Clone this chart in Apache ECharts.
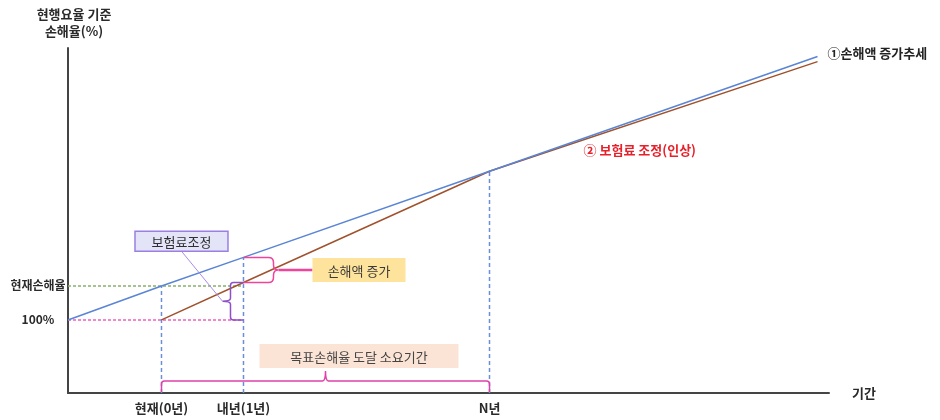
<!DOCTYPE html>
<html>
<head>
<meta charset="utf-8">
<script src="https://cdn.jsdelivr.net/npm/echarts@6/dist/echarts.min.js"></script>
<style>
  html, body { margin: 0; padding: 0; background: #fff; }
  #chart { width: 940px; height: 420px; }
</style>
</head>
<body>
<div id="chart"></div>
<script>
// 기간 축 (년) 과 눈금 라벨
const periodTicks = [0, 1, 4];
const periodLabels = ['현재(0년)', '내년(1년)', 'N년'];

// 선이 지나는 연도
const lineYears = [0, 1, 4, 8];
// ① 손해액 증가추세 (현행요율 기준 손해율)
const lossTrend = [110, 118.4, 143.75, 177.5];
// ② 보험료 조정(인상) 후 손해율
const adjusted = [100, 111, 143.75, 176];

// 손해율 기준값과 눈금 라벨
const baseRatio = 100;
const currentRatio = 110;
const ratioTicks = [100, 110];
const ratioLabels = ['100%', '현재손해율'];

const X_MIN = -1.14, X_MAX = 8.14, Y_MIN = 78.5, Y_MAX = 180;
const FONT = '"Noto Sans CJK KR", "Noto Sans", sans-serif';

const chart = echarts.init(document.getElementById('chart'), null, { renderer: 'canvas' });

const pts = (xs, ys) => xs.map((x, i) => [x, ys[i]]);

// 괄호, 연결선, 설명 상자
function renderNotes(params, api) {
  const p = (x, y) => api.coord([x, y]);
  const children = [];
  const pink = '#f0449a', purple = '#8e4fc8';

  // 내년 손해액 증가 괄호 (조정 후 ~ 증가추세 사이)
  const t = p(1, lossTrend[1]), b = p(1, adjusted[1]);
  const x0 = t[0], xr = x0 + 30, r = 5, mid = (t[1] + b[1]) / 2;
  children.push({
    type: 'path',
    shape: { pathData:
      `M${x0} ${t[1]} L${xr - r} ${t[1]} Q${xr} ${t[1]} ${xr} ${t[1] + r} L${xr} ${mid - r} ` +
      `Q${xr} ${mid} ${xr + r} ${mid} Q${xr} ${mid} ${xr} ${mid + r} L${xr} ${b[1] - r} ` +
      `Q${xr} ${b[1]} ${xr - r} ${b[1]} L${x0} ${b[1]}` },
    style: { stroke: pink, lineWidth: 1.5, fill: null }
  });
  children.push({
    type: 'line',
    shape: { x1: xr + r, y1: mid, x2: xr + r + 34, y2: mid },
    style: { stroke: pink, lineWidth: 2.5 }
  });
  const bx = xr + r + 34;
  children.push({ type: 'rect', shape: { x: bx, y: mid - 12, width: 93, height: 24 },
    style: { fill: '#fde39b', stroke: null } });
  children.push({ type: 'text', x: bx + 46.5, y: mid + 1,
    style: { text: '손해액 증가', fill: '#3a3a3a', font: '13px ' + FONT, align: 'center', verticalAlign: 'middle' } });

  // 내년 보험료조정 괄호 (100% ~ 조정 후)
  const pt = p(1, adjusted[1]), pb = p(1, baseRatio);
  const xl = pt[0] - 13, r2 = 3, m2 = (pt[1] + pb[1]) / 2;
  children.push({
    type: 'path',
    shape: { pathData:
      `M${pt[0]} ${pt[1]} L${xl + r2} ${pt[1]} Q${xl} ${pt[1]} ${xl} ${pt[1] + r2} L${xl} ${m2 - r2} ` +
      `Q${xl} ${m2} ${xl - 8} ${m2} Q${xl} ${m2} ${xl} ${m2 + r2} L${xl} ${pb[1] - r2} ` +
      `Q${xl} ${pb[1]} ${xl + r2} ${pb[1]} L${pb[0]} ${pb[1]}` },
    style: { stroke: purple, lineWidth: 1.5, fill: null }
  });
  const lx = xl - 8;
  children.push({ type: 'line', shape: { x1: lx, y1: m2, x2: lx - 41, y2: m2 - 50 },
    style: { stroke: '#a98be8', lineWidth: 1 } });
  const qx = lx - 41 - 46.5, qy = m2 - 50 - 20;
  children.push({ type: 'rect', shape: { x: qx, y: qy, width: 93, height: 20 },
    style: { fill: '#e3e4f8', stroke: '#9b7fe3', lineWidth: 1.5 } });
  children.push({ type: 'text', x: qx + 46.5, y: qy + 10.5,
    style: { text: '보험료조정', fill: '#2f2f2f', font: '13px ' + FONT, align: 'center', verticalAlign: 'middle' } });

  // 목표손해율 도달 소요기간 괄호 (현재 ~ N년)
  const a0 = p(periodTicks[0], Y_MIN), aN = p(periodTicks[2], Y_MIN);
  const yb = a0[1] - 12, xm = (a0[0] + aN[0]) / 2;
  children.push({
    type: 'path',
    shape: { pathData:
      `M${a0[0]} ${a0[1] - 1} L${a0[0]} ${yb + 3} Q${a0[0]} ${yb} ${a0[0] + 3} ${yb} L${xm - 3} ${yb} ` +
      `Q${xm} ${yb} ${xm} ${yb - 10} Q${xm} ${yb} ${xm + 3} ${yb} L${aN[0] - 3} ${yb} ` +
      `Q${aN[0]} ${yb} ${aN[0]} ${yb + 3} L${aN[0]} ${aN[1] - 1}` },
    style: { stroke: '#e040a8', lineWidth: 1.5, fill: null }
  });
  children.push({ type: 'rect', shape: { x: xm - 66, y: yb - 37, width: 199, height: 24 },
    style: { fill: '#fbe4d5', stroke: null } });
  children.push({ type: 'text', x: xm - 66 + 99.5, y: yb - 24,
    style: { text: '목표손해율 도달 소요기간', fill: '#444', font: '13px ' + FONT, align: 'center', verticalAlign: 'middle' } });

  return { type: 'group', children };
}

const dashedBlue = { color: '#6b8ed8', width: 1.5, type: [4, 3] };

const option = {
  animation: false,
  textStyle: { fontFamily: FONT },
  grid: { left: 68, right: 111, top: 48, bottom: 27 },
  xAxis: {
    type: 'value', min: X_MIN, max: X_MAX,
    name: '기간', nameLocation: 'end', nameGap: 23,
    nameTextStyle: { color: '#2a2a2a', fontWeight: 'bold', fontSize: 13, align: 'left', verticalAlign: 'middle' },
    axisLine: { show: true, onZero: false, lineStyle: { color: '#444', width: 2 } },
    axisTick: { show: false },
    splitLine: { show: false },
    axisLabel: {
      customValues: periodTicks,
      formatter: v => periodLabels[periodTicks.indexOf(v)] || '',
      color: '#2a2a2a', fontWeight: 'bold', fontSize: 13, margin: 9
    }
  },
  yAxis: {
    type: 'value', min: Y_MIN, max: Y_MAX,
    name: '현행요율 기준\n손해율(%)', nameLocation: 'end', nameGap: 8,
    nameTextStyle: { color: '#2a2a2a', fontWeight: 'bold', fontSize: 13, lineHeight: 17, align: 'center', padding: [0, 0, 0, 12] },
    axisLine: { show: true, onZero: false, lineStyle: { color: '#444', width: 2 } },
    axisTick: { show: false },
    splitLine: { show: false },
    axisLabel: {
      customValues: ratioTicks,
      formatter: v => ratioLabels[ratioTicks.indexOf(v)] || '',
      color: '#2a2a2a', fontWeight: 'bold', fontSize: 12, margin: 30, align: 'center'
    }
  },
  series: [
    { // 현재손해율 기준선
      type: 'line', silent: true, symbol: 'none',
      data: [[X_MIN, currentRatio], [periodTicks[1], currentRatio]],
      lineStyle: { color: '#86b06a', width: 1.5, type: [3, 2] }, z: 1
    },
    { // 100% 기준선
      type: 'line', silent: true, symbol: 'none',
      data: [[X_MIN, baseRatio], [periodTicks[1], baseRatio]],
      lineStyle: { color: '#f060c0', width: 1.5, type: [3, 2] }, z: 1
    },
    { type: 'line', silent: true, symbol: 'none',
      data: [[periodTicks[0], Y_MIN], [periodTicks[0], lossTrend[0]]], lineStyle: dashedBlue, z: 1 },
    { type: 'line', silent: true, symbol: 'none',
      data: [[periodTicks[1], Y_MIN], [periodTicks[1], lossTrend[1]]], lineStyle: dashedBlue, z: 1 },
    { type: 'line', silent: true, symbol: 'none',
      data: [[periodTicks[2], Y_MIN], [periodTicks[2], lossTrend[2]]], lineStyle: dashedBlue, z: 1 },
    { // ① 손해액 증가추세
      type: 'line', silent: true, symbol: 'none',
      data: [[X_MIN, baseRatio]].concat(pts(lineYears, lossTrend)),
      lineStyle: { color: '#5a84d4', width: 1.5 }, z: 3,
      endLabel: { show: true, formatter: '①손해액 증가추세', distance: 10, offset: [0, -3],
        color: '#222', fontWeight: 'bold', fontSize: 13 }
    },
    { // ② 보험료 조정(인상)
      type: 'line', silent: true, symbol: 'circle', symbolSize: 0.1, showSymbol: true,
      itemStyle: { color: '#a0522d' },
      data: pts(lineYears, adjusted).map((d, i) => i === 2 ? {
        value: d,
        label: { show: true, formatter: '② 보험료 조정(인상)', position: 'right', distance: 94, offset: [0, -21],
          color: '#e8202a', fontWeight: 'bold', fontSize: 13 }
      } : d),
      lineStyle: { color: '#a0522d', width: 1.5 }, z: 2
    },
    {
      type: 'custom', silent: true, clip: false, z: 4,
      data: [[periodTicks[1], baseRatio]],
      renderItem: renderNotes
    }
  ]
};

chart.setOption(option);
</script>
</body>
</html>
